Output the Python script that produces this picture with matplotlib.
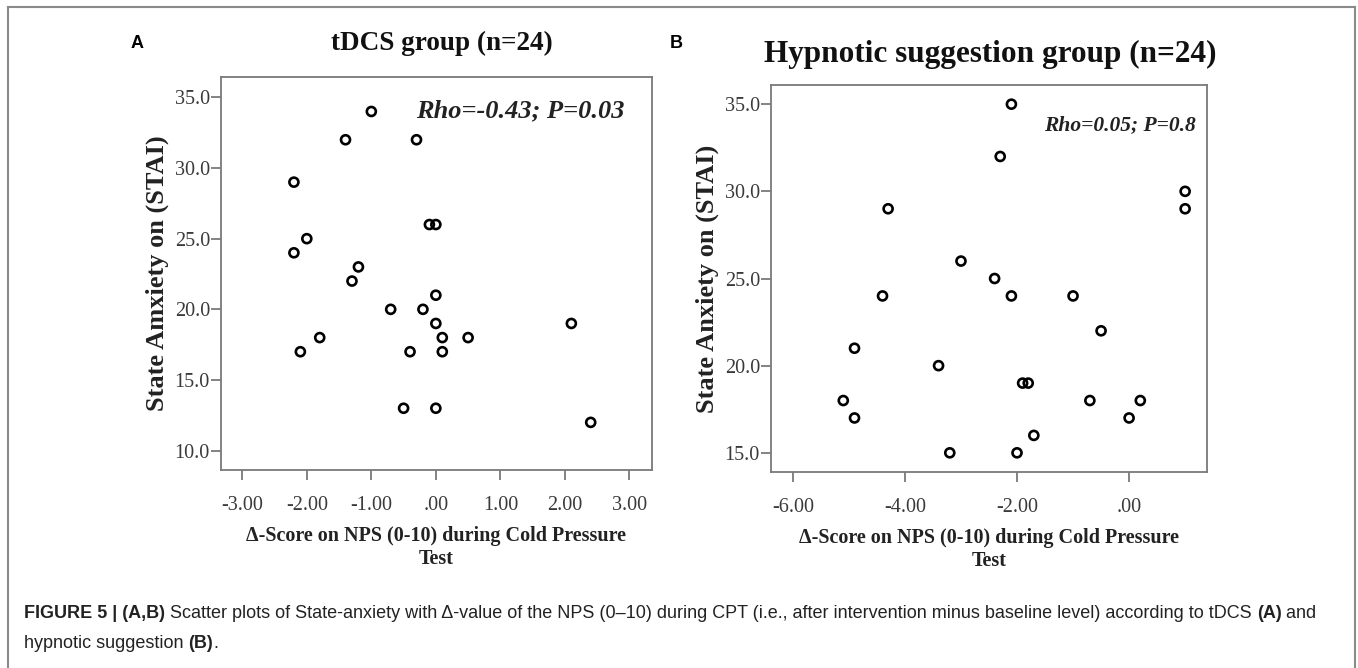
import matplotlib
matplotlib.use("Agg")
import matplotlib.pyplot as plt
from matplotlib.lines import Line2D

# ---------------- data ----------------
a_x = [-1.0, -1.4, -0.3, -2.2, -0.1, 0.0, -2.0, -2.2, -1.2, -1.3, 0.0, -0.7,
       -0.2, 0.0, 2.1, -1.8, 0.1, 0.5, -2.1, -0.4, 0.1, -0.5, 0.0, 2.4]
a_y = [34, 32, 32, 29, 26, 26, 25, 24, 23, 22, 21, 20,
       20, 19, 19, 18, 18, 18, 17, 17, 17, 13, 13, 12]
b_x = [-2.1, -2.3, -4.3, -3.0, -2.4, -4.4, -2.1, -1.0, -0.5, -4.9, -3.4, -1.9,
       -1.8, -5.1, -0.7, 0.2, -4.9, 0.0, -1.7, -3.2, -2.0, 1.0, 1.0]
b_y = [35, 32, 29, 26, 25, 24, 24, 24, 22, 21, 20, 19,
       19, 18, 18, 18, 17, 17, 16, 15, 15, 30, 29]

a_xticks = [-3, -2, -1, 0, 1, 2, 3]
a_xticklabels = ["-3.00", "-2.00", "-1.00", ".00", "1.00", "2.00", "3.00"]
a_yticks = [10, 15, 20, 25, 30, 35]
a_yticklabels = ["10.0", "15.0", "20.0", "25.0", "30.0", "35.0"]
b_xticks = [-6, -4, -2, 0]
b_xticklabels = ["-6.00", "-4.00", "-2.00", ".00"]
b_yticks = [15, 20, 25, 30, 35]
b_yticklabels = ["15.0", "20.0", "25.0", "30.0", "35.0"]

title_a = "tDCS group (n=24)"
title_b = "Hypnotic suggestion group (n=24)"
ylabel_a = "State Amxiety on (STAI)"
ylabel_b = "State Anxiety on (STAI)"
xlabel = "\u0394-Score on NPS (0-10) during Cold Pressure\nTest"
stat_a = "Rho=-0.43; P=0.03"
stat_b = "Rho=0.05; P=0.8"

caption_line1 = [("FIGURE 5 | (A,B)", "bold"),
                 (" Scatter plots of State-anxiety with \u0394-value of the NPS (0\u201310) during CPT (i.e., after intervention minus baseline level) according to tDCS ", "normal"),
                 ("(A)", "bold"), (" and", "normal")]
caption_line2 = [("hypnotic suggestion ", "normal"), ("(B)", "bold"), (".", "normal")]

# ---------------- figure ----------------
W, H = 1358, 668
fig = plt.figure(figsize=(W / 100, H / 100), dpi=100)
fig.patch.set_facecolor("white")

SERIF = ["Liberation Serif", "DejaVu Serif"]
SANS = ["Liberation Sans", "DejaVu Sans"]
SPINE = "#7a7a7a"
TICKC = "#3a3a3a"


def px_rect(l, t, r, b):
    return [l / W, 1 - b / H, (r - l) / W, (b - t) / H]


def style_axes(ax, xlim, ylim, xt, xtl, yt, ytl):
    ax.set_xlim(*xlim)
    ax.set_ylim(*ylim)
    ax.set_xticks(xt)
    ax.set_xticklabels(xtl, fontfamily=SERIF, fontsize=14.5, color=TICKC)
    ax.set_yticks(yt)
    ax.set_yticklabels(ytl, fontfamily=SERIF, fontsize=14.5, color=TICKC)
    for s in ax.spines.values():
        s.set_color(SPINE)
        s.set_linewidth(1.3)
    ax.tick_params(axis="both", direction="out", length=7, width=1.3,
                   color=SPINE)
    ax.tick_params(axis="x", pad=12)
    ax.tick_params(axis="y", pad=1)


# Panel A
axA = fig.add_axes(px_rect(221, 77, 652, 470))
axA.scatter(a_x, a_y, s=42, facecolors="none", edgecolors="black",
            linewidths=1.9, zorder=3)
style_axes(axA, (-3.33, 3.35), (8.63, 36.44), a_xticks, a_xticklabels,
           a_yticks, a_yticklabels)
axA.set_xlabel(xlabel, fontfamily=SERIF, fontsize=14.5, fontweight="bold",
               color="#222222", linespacing=1.15, labelpad=8)
axA.set_ylabel(ylabel_a, fontfamily=SERIF, fontsize=19, fontweight="bold",
               color="#222222", labelpad=4)
axA.text(0.937, 0.913, stat_a, transform=axA.transAxes, ha="right", va="center",
         fontfamily=SERIF, fontsize=19, fontweight="bold", fontstyle="italic",
         color="#222222")

# Panel B
axB = fig.add_axes(px_rect(771, 85, 1207, 472))
axB.scatter(b_x, b_y, s=42, facecolors="none", edgecolors="black",
            linewidths=1.9, zorder=3)
style_axes(axB, (-6.39, 1.39), (13.9, 36.1), b_xticks, b_xticklabels,
           b_yticks, b_yticklabels)
axB.set_xlabel(xlabel, fontfamily=SERIF, fontsize=14.5, fontweight="bold",
               color="#222222", linespacing=1.15, labelpad=8)
axB.set_ylabel(ylabel_b, fontfamily=SERIF, fontsize=19, fontweight="bold",
               color="#222222", labelpad=4)
axB.text(0.975, 0.897, stat_b, transform=axB.transAxes, ha="right", va="center",
         fontfamily=SERIF, fontsize=15.5, fontweight="bold", fontstyle="italic",
         color="#222222")

# Titles and panel letters
fig.text(442 / W, 1 - 43 / H, title_a, ha="center", va="center",
         fontfamily=SERIF, fontsize=19.5, fontweight="bold", color="#111111")
fig.text(990 / W, 1 - 54 / H, title_b, ha="center", va="center",
         fontfamily=SERIF, fontsize=22.5, fontweight="bold", color="#111111")
fig.text(137 / W, 1 - 44 / H, "A", ha="center", va="center",
         fontfamily=SANS, fontsize=13, fontweight="bold", color="black")
fig.text(676 / W, 1 - 44 / H, "B", ha="center", va="center",
         fontfamily=SANS, fontsize=13, fontweight="bold", color="black")

# Outer frame (left, top, right)
frame_c = "#8a8a8a"
fig.add_artist(Line2D([8 / W, 8 / W], [0, 1 - 7 / H], transform=fig.transFigure,
                      color=frame_c, linewidth=1.5))
fig.add_artist(Line2D([8 / W, 1355 / W], [1 - 7 / H, 1 - 7 / H],
                      transform=fig.transFigure, color=frame_c, linewidth=1.5))
fig.add_artist(Line2D([1355 / W, 1355 / W], [0, 1 - 7 / H],
                      transform=fig.transFigure, color=frame_c, linewidth=1.5))

# Caption with mixed weights
renderer = fig.canvas.get_renderer()


def draw_segments(segments, x0_px, y_px, size):
    x = x0_px
    for txt, wt in segments:
        t = fig.text(x / W, 1 - y_px / H, txt, ha="left", va="center",
                     fontfamily=SANS, fontsize=size, fontweight=wt,
                     color="#222222")
        bb = t.get_window_extent(renderer=renderer)
        x += bb.width
    return x


# fit first caption line width to the reference (24 -> 1323 px)
base = 10.0
tmp_w = 0
for txt, wt in caption_line1:
    t = fig.text(0, 0, txt, fontfamily=SANS, fontsize=base, fontweight=wt)
    tmp_w += t.get_window_extent(renderer=renderer).width
    t.remove()
cap_size = base * (1323 - 24) / tmp_w

draw_segments(caption_line1, 24, 614, cap_size)
draw_segments(caption_line2, 24, 643, cap_size)

fig.savefig("out.png", dpi=100, facecolor="white")
